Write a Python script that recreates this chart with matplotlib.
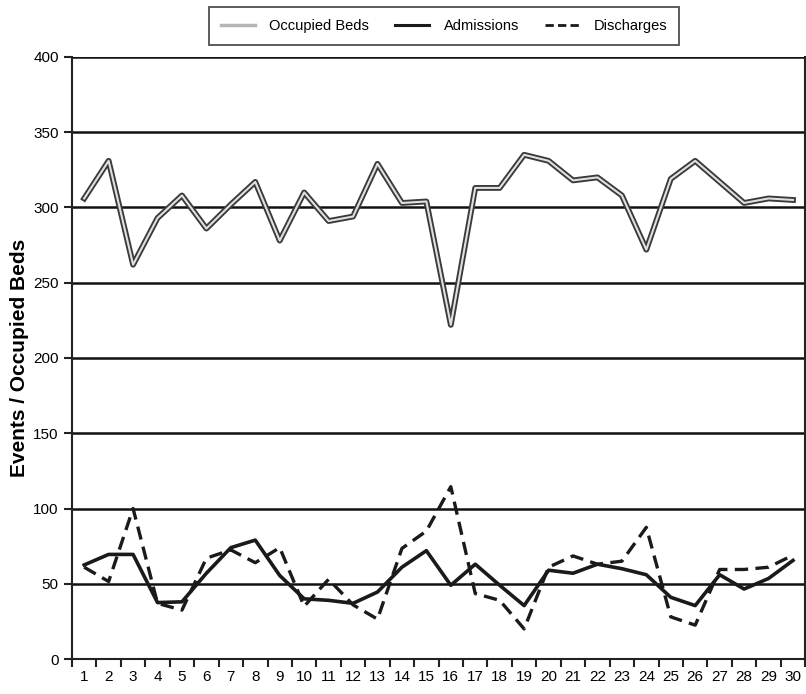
import matplotlib
matplotlib.use("Agg")
import matplotlib.pyplot as plt
from matplotlib.lines import Line2D
import matplotlib.patheffects as pe

days = list(range(1, 31))
occupied_beds = [306, 331, 262, 293, 308, 286, 302, 317, 278, 310,
                 291, 294, 329, 303, 304, 222, 313, 313, 335, 331,
                 318, 320, 308, 272, 319, 331, 317, 303, 306, 305]
admissions = [62.5, 69.5, 69.5, 37.5, 38, 57, 74, 79, 55.5, 40,
              39, 37, 44.5, 61, 72, 49, 63, 49, 35.5, 59,
              57, 63, 60, 56, 41, 35.5, 56, 46.5, 53.5, 65.5]
discharges = [61, 51.5, 100, 37, 32.5, 67, 72.5, 64, 74, 35,
              53, 36, 26.5, 73.5, 85, 114.5, 43.5, 39, 20, 61,
              68.5, 63, 65, 87.5, 28, 22.5, 59.5, 59.5, 61, 69]
yticks = [0, 50, 100, 150, 200, 250, 300, 350, 400]

plt.rcParams['font.family'] = ['Liberation Sans Narrow', 'Liberation Sans', 'DejaVu Sans']

fig = plt.figure(figsize=(8.06, 6.94), dpi=100)
ax = fig.add_axes([0.0893, 0.0504, 0.9097, 0.8675])

for y in yticks[1:]:
    ax.axhline(y, color='#111111', lw=1.8, zorder=1)

ax.plot(days, occupied_beds, color='#e0e0e0', lw=1.5, zorder=3,
        path_effects=[pe.Stroke(linewidth=4.2, foreground='#3a3a3a'), pe.Normal()])
ax.plot(days, admissions, color='#1a1a1a', lw=2.6, zorder=4)
ax.plot(days, discharges, color='#1a1a1a', lw=2.4, ls=(0, (4, 2.2)), zorder=4)

ax.set_xlim(0.5, 30.5)
ax.set_ylim(0, 400)
ax.set_yticks(yticks)
ax.set_xticks(days)
ax.set_xticks([d + 0.5 for d in [0] + days], minor=True)
ax.tick_params(axis='x', which='major', length=0, labelsize=11, pad=8)
ax.tick_params(axis='x', which='minor', length=6, width=1.5, direction='out', color='#222222')
ax.tick_params(axis='y', length=6, width=1.5, labelsize=11, color='#222222')

for s in ['left', 'bottom', 'right']:
    ax.spines[s].set_color('#222222')
    ax.spines[s].set_linewidth(1.5)
ax.spines['top'].set_visible(False)

ax.set_ylabel('Events / Occupied Beds', family=['Liberation Sans', 'DejaVu Sans'],
              fontsize=15, fontweight='bold', labelpad=3)

handles = [
    Line2D([], [], color='#b5b5b5', lw=2.5),
    Line2D([], [], color='#1a1a1a', lw=2.2),
    Line2D([], [], color='#1a1a1a', lw=2.0, ls=(0, (3, 1.5))),
]
leg = fig.legend(handles, ['Occupied Beds', 'Admissions', 'Discharges'],
                 loc='center', bbox_to_anchor=(0.551, 0.9625), ncol=3,
                 frameon=True, fancybox=False, edgecolor='#222222',
                 fontsize=10.5, handlelength=2.3, columnspacing=1.8,
                 handletextpad=1.0, borderpad=0.85)
leg.get_frame().set_linewidth(1.3)

fig.savefig('out.png', dpi=100)
